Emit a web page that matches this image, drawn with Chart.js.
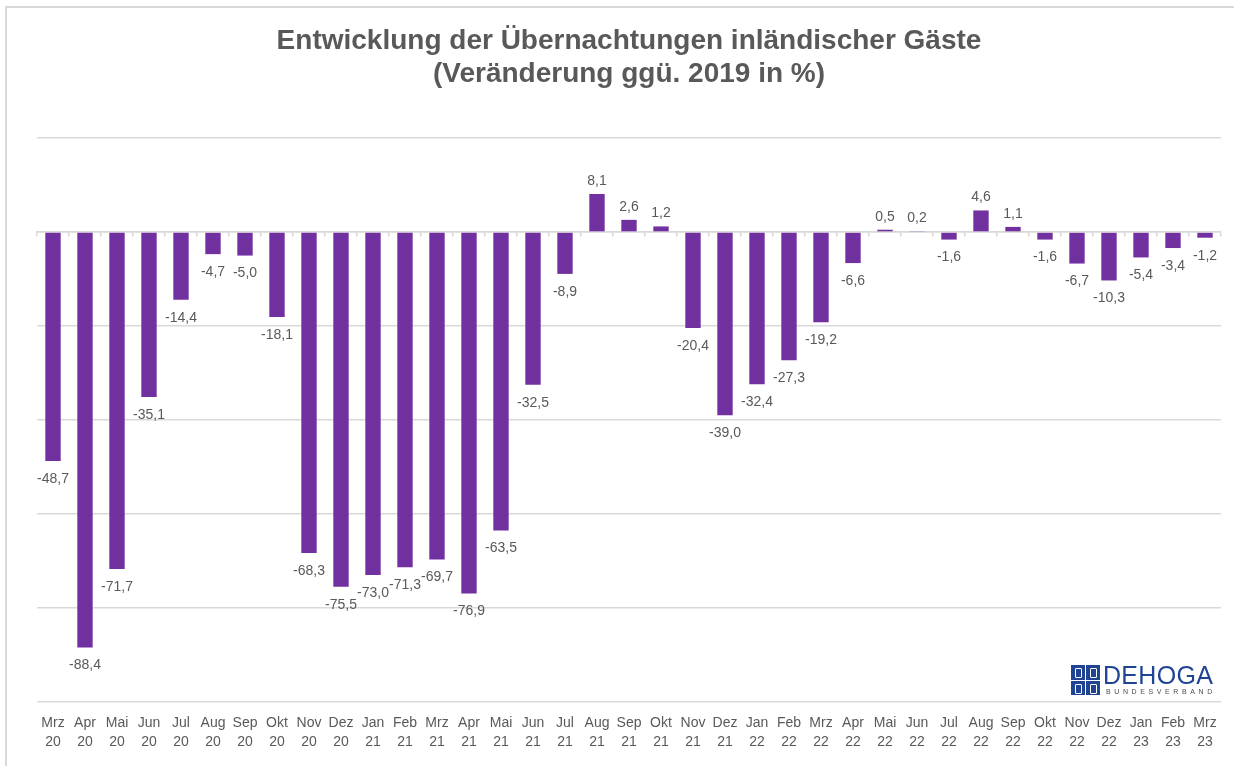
<!DOCTYPE html>
<html lang="de">
<head>
<meta charset="utf-8">
<title>Entwicklung der Übernachtungen inländischer Gäste</title>
<script src="https://cdn.jsdelivr.net/npm/chart.js@4.4.1/dist/chart.umd.min.js"></script>
<style>
  html, body { margin: 0; padding: 0; background: #fff; overflow: hidden; }
  #wrap { position: relative; width: 1234px; height: 766px; overflow: hidden; }
  #frame {
    position: absolute; left: 5px; top: 6px; width: 1300px; height: 800px;
    border-top: 2px solid #d9d9d9; border-left: 2px solid #d9d9d9;
  }
  #chart { position: absolute; left: 0; top: 0; }
  /* DEHOGA logo */
  #logo { position: absolute; left: 1071px; top: 664px; height: 32px; }
  #logo .icon {
    position: absolute; left: 0; top: 1px; width: 29px; height: 30px;
    display: grid; grid-template-columns: 1fr 1fr; grid-template-rows: 1fr 1fr; gap: 1px;
    background: #fff;
  }
  #logo .icon div { background: #1f4494; position: relative; }
  #logo .icon div::after {
    content: ""; position: absolute; left: 4px; top: 3px; width: 5px; height: 8px;
    border: 1px solid #fff; border-radius: 1px;
  }
  #logo .name {
    position: absolute; left: 32px; top: -3px; font: 25px "Liberation Sans", Arial, sans-serif;
    color: #1f4494; letter-spacing: 0.3px; white-space: nowrap;
  }
  #logo .sub {
    position: absolute; left: 35px; top: 24px; font: 7px "Liberation Sans", Arial, sans-serif;
    color: #4d4d4d; letter-spacing: 3.6px; white-space: nowrap;
  }
</style>
</head>
<body>
<div id="wrap">
  <div id="frame"></div>
  <canvas id="chart" width="1234" height="766"></canvas>
  <div id="logo">
    <div class="icon"><div></div><div></div><div></div><div></div></div>
    <div class="name">DEHOGA</div>
    <div class="sub">BUNDESVERBAND</div>
  </div>
</div>
<script>
// Monthly labels (month, year)
const months = ['Mrz', 'Apr', 'Mai', 'Jun', 'Jul', 'Aug', 'Sep', 'Okt', 'Nov', 'Dez',
                'Jan', 'Feb', 'Mrz', 'Apr', 'Mai', 'Jun', 'Jul', 'Aug', 'Sep', 'Okt', 'Nov', 'Dez',
                'Jan', 'Feb', 'Mrz', 'Apr', 'Mai', 'Jun', 'Jul', 'Aug', 'Sep', 'Okt', 'Nov', 'Dez',
                'Jan', 'Feb', 'Mrz'];
const years = ['20', '20', '20', '20', '20', '20', '20', '20', '20', '20',
               '21', '21', '21', '21', '21', '21', '21', '21', '21', '21', '21', '21',
               '22', '22', '22', '22', '22', '22', '22', '22', '22', '22', '22', '22',
               '23', '23', '23'];

// Change vs. 2019 in %
const changes = [-48.7, -88.4, -71.7, -35.1, -14.4, -4.7, -5.0, -18.1, -68.3, -75.5,
                 -73.0, -71.3, -69.7, -76.9, -63.5, -32.5, -8.9, 8.1, 2.6, 1.2, -20.4, -39.0,
                 -32.4, -27.3, -19.2, -6.6, 0.5, 0.2, -1.6, 4.6, 1.1, -1.6, -6.7, -10.3,
                 -5.4, -3.4, -1.2];

const titleLines = ['Entwicklung der Übernachtungen inländischer Gäste', '(Veränderung ggü. 2019 in %)'];

const labels = months.map((m, i) => [m, years[i]]);
const fontFamily = '"Liberation Sans", Arial, sans-serif';
const textGray = '#595959';
const gridGray = '#d9d9d9';

// Value labels at the end of each bar, German decimal comma
const barLabels = {
    id: 'barLabels',
    afterDatasetsDraw(chart) {
        const ctx = chart.ctx;
        const meta = chart.getDatasetMeta(0);
        ctx.save();
        ctx.font = '14px ' + fontFamily;
        ctx.fillStyle = textGray;
        ctx.textAlign = 'center';
        meta.data.forEach((bar, i) => {
            const v = changes[i];
            const txt = v.toFixed(1).replace('.', ',');
            if (v < 0) {
                ctx.textBaseline = 'top';
                ctx.fillText(txt, bar.x, bar.y + 11);
            } else {
                ctx.textBaseline = 'bottom';
                ctx.fillText(txt, bar.x, bar.y - 6);
            }
        });
        ctx.restore();
    }
};

new Chart(document.getElementById('chart'), {
    type: 'bar',
    data: {
        labels: labels,
        datasets: [{
            data: changes,
            backgroundColor: '#7030a0',
            borderWidth: 0,
            categoryPercentage: 1.0,
            barPercentage: 0.48,
            xAxisID: 'x'
        }]
    },
    options: {
        responsive: false,
        animation: false,
        layout: { padding: { left: 37, right: 13, top: 0, bottom: 11 } },
        plugins: {
            legend: { display: false },
            tooltip: { enabled: false },
            title: {
                display: true,
                text: titleLines,
                color: textGray,
                font: { family: fontFamily, size: 28, weight: 'bold', lineHeight: 1.18 },
                padding: { top: 25, bottom: 47 }
            }
        },
        scales: {
            x: {
                position: 'bottom',
                grid: { display: false },
                border: { display: false },
                ticks: {
                    color: textGray,
                    font: { family: fontFamily, size: 14, lineHeight: '19px' },
                    autoSkip: false,
                    maxRotation: 0,
                    padding: 3.5
                }
            },
            zeroLine: {
                axis: 'x',
                type: 'category',
                labels: labels,
                position: { y: 0 },
                offset: true,
                ticks: { display: false },
                grid: { drawOnChartArea: false, offset: true, tickLength: 4, color: gridGray, lineWidth: 1.5 },
                border: { display: true, color: gridGray, width: 1.5 }
            },
            y: {
                min: -100,
                max: 20,
                ticks: { display: false, stepSize: 20 },
                grid: { color: gridGray, lineWidth: 1.5, drawTicks: false },
                border: { display: false }
            }
        }
    },
    plugins: [barLabels]
});
</script>
</body>
</html>
